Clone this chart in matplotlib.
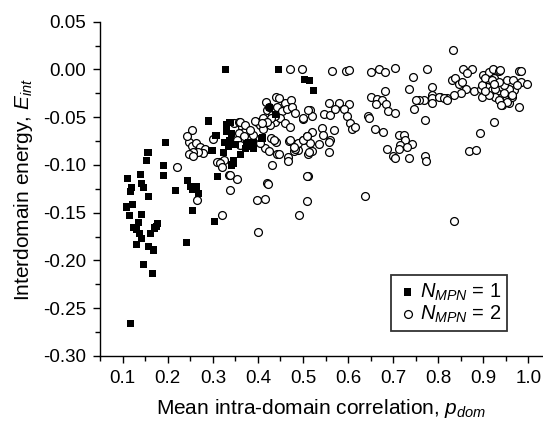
import numpy as np
import matplotlib
matplotlib.use("Agg")
import matplotlib.pyplot as plt

plt.rcParams["font.family"] = ["Liberation Sans", "DejaVu Sans"]
plt.rcParams["mathtext.fontset"] = "custom"
plt.rcParams["mathtext.rm"] = "Liberation Sans"
plt.rcParams["mathtext.it"] = "Liberation Sans:italic"

# N_MPN = 1 (filled squares): (p_dom, E_int)
sq_p = [0.329, 0.446, 0.504, 0.514, 0.524, 0.291, 0.307, 0.195, 0.156, 0.152,
        0.190, 0.191, 0.140, 0.111, 0.142, 0.146, 0.157, 0.119, 0.118, 0.121,
        0.109, 0.115, 0.141, 0.135, 0.124, 0.177, 0.170, 0.137, 0.142, 0.130,
        0.157, 0.168, 0.147, 0.166, 0.118, 0.218, 0.244, 0.255, 0.242, 0.261,
        0.131, 0.161, 0.174, 0.256, 0.264, 0.269, 0.303, 0.298, 0.324, 0.311,
        0.331, 0.338, 0.331, 0.342, 0.327, 0.338, 0.350, 0.335, 0.361, 0.372,
        0.383, 0.390, 0.346, 0.379, 0.411, 0.390, 0.409, 0.425, 0.440, 0.342,
        0.375, 0.346, 0.250, 0.268]
sq_e = [0.000, 0.000, -0.011, -0.012, -0.022, -0.054, -0.069, -0.076, -0.087, -0.095,
        -0.101, -0.111, -0.110, -0.114, -0.119, -0.124, -0.133, -0.124, -0.128, -0.141,
        -0.144, -0.153, -0.152, -0.160, -0.165, -0.161, -0.166, -0.172, -0.177, -0.183,
        -0.185, -0.189, -0.204, -0.214, -0.266, -0.127, -0.116, -0.148, -0.181, -0.124,
        -0.168, -0.172, -0.164, -0.126, -0.123, -0.130, -0.159, -0.085, -0.087, -0.112,
        -0.058, -0.056, -0.065, -0.067, -0.076, -0.074, -0.079, -0.081, -0.089, -0.083,
        -0.081, -0.083, -0.098, -0.077, -0.071, -0.076, -0.072, -0.040, -0.047, -0.100,
        -0.079, -0.095, -0.123, -0.130]

# N_MPN = 2 (open circles)
ci_p = [0.471, 0.497, 0.565, 0.596, 0.603, 0.652, 0.668, 0.681, 0.705, 0.776,
        0.833, 0.855, 0.876, 0.864, 0.745, 0.735, 0.787, 0.831, 0.838, 0.846,
        0.853, 0.861, 0.850, 0.835, 0.820, 0.805, 0.787, 0.787, 0.787, 0.768,
        0.757, 0.750, 0.746, 0.770, 0.879, 0.894, 0.898, 0.900, 0.913, 0.922,
        0.936, 0.916, 0.924, 0.909, 0.920, 0.931, 0.938, 0.942, 0.950, 0.957,
        0.964, 0.968, 0.957, 0.946, 0.935, 0.953, 0.966, 0.979, 0.983, 0.983,
        0.996, 0.976, 0.980, 0.924, 0.893, 0.868, 0.885, 0.898, 0.905,
        0.515, 0.520, 0.500, 0.557, 0.579, 0.601, 0.546, 0.561, 0.572, 0.590,
        0.598, 0.605, 0.609, 0.616, 0.542, 0.568, 0.544, 0.521, 0.509, 0.501,
        0.516, 0.535, 0.561, 0.557, 0.512, 0.520, 0.512, 0.637, 0.644, 0.646,
        0.652, 0.664, 0.676, 0.685, 0.683, 0.661, 0.688, 0.705, 0.659, 0.678,
        0.714, 0.724, 0.727, 0.716, 0.742, 0.731, 0.713, 0.687, 0.700, 0.705,
        0.736, 0.770, 0.772, 0.802, 0.813, 0.820, 0.937, 0.927, 0.927, 0.935,
        0.953, 0.964, 0.920, 0.924, 0.913, 0.905, 0.939, 0.946,
        0.442, 0.467, 0.467, 0.509, 0.492, 0.557, 0.470, 0.485, 0.490, 0.480,
        0.253, 0.246, 0.253, 0.263, 0.272, 0.283, 0.279, 0.268, 0.257, 0.247,
        0.256, 0.243, 0.221, 0.301, 0.313, 0.324, 0.310, 0.316, 0.320, 0.336,
        0.339, 0.353, 0.338, 0.421, 0.398, 0.416, 0.320, 0.400, 0.264, 0.431,
        0.446, 0.483, 0.490, 0.501, 0.509, 0.510, 0.346, 0.357, 0.364, 0.375,
        0.368, 0.390, 0.398, 0.418, 0.440, 0.461, 0.473, 0.420, 0.431, 0.442,
        0.453, 0.464, 0.476, 0.412, 0.438, 0.450, 0.461, 0.472, 0.483, 0.499,
        0.512, 0.405, 0.394, 0.427, 0.430, 0.440, 0.415, 0.425, 0.405, 0.472,
        0.479, 0.514, 0.422, 0.836, 0.424, 0.439, 0.428, 0.420, 0.412, 0.409,
        0.361, 0.372, 0.383, 0.359, 0.368, 0.353, 0.361, 0.435, 0.446]
ci_e = [0.000, 0.000, -0.002, -0.002, -0.001, -0.003, 0.000, -0.003, 0.001, 0.000,
        0.020, 0.000, 0.000, -0.004, -0.008, -0.020, -0.018, -0.011, -0.009, -0.015,
        -0.013, -0.020, -0.025, -0.027, -0.030, -0.029, -0.027, -0.030, -0.035, -0.032,
        -0.032, -0.032, -0.041, -0.053, -0.023, -0.020, -0.029, -0.006, -0.003, 0.000,
        -0.002, -0.013, -0.009, -0.018, -0.022, -0.025, -0.030, -0.037, -0.032, -0.035,
        -0.029, -0.022, -0.020, -0.016, -0.013, -0.011, -0.011, -0.002, -0.002, -0.013,
        -0.015, -0.016, -0.039, -0.055, -0.067, -0.085, -0.084, -0.016, -0.009,
        -0.042, -0.049, -0.052, -0.035, -0.035, -0.036, -0.047, -0.048, -0.041, -0.041,
        -0.049, -0.056, -0.062, -0.060, -0.061, -0.063, -0.069, -0.065, -0.070, -0.074,
        -0.077, -0.078, -0.074, -0.086, -0.088, -0.085, -0.112, -0.133, -0.049, -0.051,
        -0.029, -0.031, -0.032, -0.036, -0.023, -0.036, -0.044, -0.046, -0.062, -0.065,
        -0.069, -0.069, -0.074, -0.079, -0.078, -0.081, -0.083, -0.083, -0.091, -0.093,
        -0.093, -0.091, -0.096, -0.029, -0.030, -0.032, -0.001, -0.020, -0.029, -0.032,
        -0.034, -0.027, -0.011, -0.015, -0.027, -0.023, -0.037, -0.025,
        -0.088, -0.092, -0.096, -0.138, -0.152, -0.076, -0.075, -0.078, -0.084, -0.085,
        -0.063, -0.076, -0.080, -0.077, -0.081, -0.083, -0.087, -0.086, -0.086, -0.088,
        -0.091, -0.070, -0.102, -0.073, -0.097, -0.095, -0.097, -0.098, -0.102, -0.111,
        -0.110, -0.115, -0.126, -0.119, -0.137, -0.136, -0.152, -0.170, -0.137, -0.100,
        -0.088, -0.083, -0.077, -0.074, -0.070, -0.112, -0.056, -0.055, -0.060, -0.062,
        -0.065, -0.069, -0.055, -0.034, -0.029, -0.035, -0.032, -0.042, -0.048, -0.039,
        -0.044, -0.041, -0.039, -0.051, -0.055, -0.051, -0.056, -0.060, -0.046, -0.051,
        -0.042, -0.058, -0.054, -0.058, -0.072, -0.076, -0.082, -0.085, -0.077, -0.074,
        -0.081, -0.086, -0.120, -0.159, -0.039, -0.049, -0.051, -0.055, -0.062, -0.056,
        -0.055, -0.058, -0.063, -0.067, -0.070, -0.074, -0.079, -0.074, -0.030]

x_ticks = [0.1, 0.2, 0.3, 0.4, 0.5, 0.6, 0.7, 0.8, 0.9, 1.0]
y_ticks = [-0.30, -0.25, -0.20, -0.15, -0.10, -0.05, 0.00, 0.05]

fig = plt.figure(figsize=(5.43, 4.22), dpi=100)
ax = fig.add_axes([0.1842, 0.1564, 0.8158, 0.7922])

ax.scatter(ci_p, ci_e, s=32, marker="o", facecolors="white",
           edgecolors="black", linewidths=0.9, zorder=2, label="$N_{MPN}$ = 2")
ax.scatter(sq_p, sq_e, s=26, marker="s", facecolors="black",
           edgecolors="none", zorder=3, label="$N_{MPN}$ = 1")

ax.set_xlim(0.0496, 1.0326)
ax.set_ylim(-0.30, 0.05)
ax.set_xticks(x_ticks)
ax.set_xticks(np.arange(0.05, 1.03, 0.05), minor=True)
ax.set_yticks(y_ticks)
ax.set_yticks(np.arange(-0.30, 0.051, 0.025), minor=True)
ax.set_xticklabels([f"{v:.1f}" for v in x_ticks])
ax.set_yticklabels([f"{v:.2f}" if abs(v) > 1e-9 else "0.00" for v in y_ticks])

for s in ["top", "right"]:
    ax.spines[s].set_visible(False)
for s in ["left", "bottom"]:
    ax.spines[s].set_linewidth(1.0)
ax.tick_params(which="major", direction="out", length=5, width=1.0,
               labelsize=13.5, pad=5)
ax.tick_params(which="minor", direction="out", length=3.5, width=1.0)

ax.set_xlabel("Mean intra-domain correlation, $p_{dom}$", fontsize=15, labelpad=7)
ax.set_ylabel("Interdomain energy, $E_{int}$", fontsize=15, labelpad=6)

h, l = ax.get_legend_handles_labels()
leg = ax.legend([h[1], h[0]], [l[1], l[0]], loc="lower right",
                bbox_to_anchor=(0.919, 0.075), fontsize=14.5, frameon=True,
                fancybox=False, edgecolor="black", handletextpad=0.1,
                handlelength=1.0, borderpad=0.3, labelspacing=0.05,
                borderaxespad=0)
leg.get_frame().set_linewidth(1.3)

fig.savefig("out.png", dpi=100)
